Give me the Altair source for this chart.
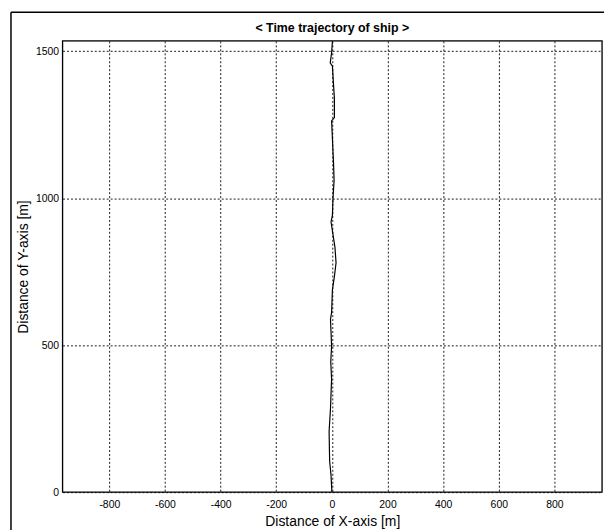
import altair as alt
import pandas as pd

# Trajectory of the ship
traj_y = [0, 57, 105, 206, 284, 385, 443, 497, 544, 588, 611, 689, 733, 780, 834,
          919, 942, 1000, 1061, 1118, 1263, 1274, 1341, 1399, 1449, 1460, 1494, 1534]
traj_x = [0, -3, -8, -10, -5, -1, -4, -1, -3, -5, -1, 2, 9, 15, 11,
          -3, 2, 4, 8, 6, -1, 9, 9, 5, 2, -6, -1, 2]

x_ticks = [-800, -600, -400, -200, 0, 200, 400, 600, 800]
y_ticks = [0, 500, 1000, 1500]

TITLE = "< Time trajectory of ship >"

df = pd.DataFrame({"x": traj_x, "y": traj_y, "order": list(range(len(traj_x)))})

FONT = "Liberation Sans"
W, H = 544, 455

line = alt.Chart(df).mark_line(color="black", strokeWidth=1.2, clip=True).encode(
    x=alt.X("x:Q",
            scale=alt.Scale(domain=[-968, 971], nice=False, zero=False),
            axis=alt.Axis(values=x_ticks, title="Distance of X-axis [m]",
                          labelExpr="'' + datum.value",
                          grid=True, gridColor="black", gridDash=[2, 2],
                          gridOpacity=0.9, gridWidth=1,
                          ticks=False, domain=False, labelPadding=7,
                          labelFont=FONT, labelFontSize=10.5, labelColor="black",
                          titleFont=FONT, titleFontSize=14, titleFontWeight="normal",
                          titleColor="black", titlePadding=5)),
    y=alt.Y("y:Q",
            scale=alt.Scale(domain=[0, 1535], nice=False, zero=False),
            axis=alt.Axis(values=y_ticks, title="Distance of Y-axis [m]",
                          labelExpr="'' + datum.value",
                          grid=True, gridColor="black", gridDash=[2, 2],
                          gridOpacity=0.9, gridWidth=1,
                          ticks=False, domain=False, labelPadding=4,
                          labelFont=FONT, labelFontSize=10.5, labelColor="black",
                          titleFont=FONT, titleFontSize=14, titleFontWeight="normal",
                          titleColor="black", titlePadding=5)),
    order="order:Q",
)

one = pd.DataFrame({"a": [0]})
plot_frame = alt.Chart(one).mark_rect(filled=False, stroke="black", strokeWidth=1.3).encode(
    x=alt.value(0), x2=alt.value(W), y=alt.value(0), y2=alt.value(H)
)
left_border = alt.Chart(one).mark_rule(color="black", strokeWidth=1.5).encode(
    x=alt.value(-52), y=alt.value(-29), y2=alt.value(495)
)
top_border = alt.Chart(one).mark_rule(color="black", strokeWidth=1.5).encode(
    x=alt.value(-52), x2=alt.value(546), y=alt.value(-29)
)
title_text = alt.Chart(one).mark_text(
    font=FONT, fontSize=12.5, fontWeight="bold", color="black",
    align="center", baseline="middle"
).encode(x=alt.value(W / 2), y=alt.value(-13), text=alt.value(TITLE))

chart = alt.layer(line, plot_frame, left_border, top_border, title_text).properties(
    width=W,
    height=H,
    padding={"left": 55, "top": 31, "right": 5, "bottom": 36},
    autosize=alt.AutoSizeParams(type="none"),
).configure_view(stroke=None).configure(background="white")

chart.save("out.html", embed_options={"renderer": "svg", "actions": False})
